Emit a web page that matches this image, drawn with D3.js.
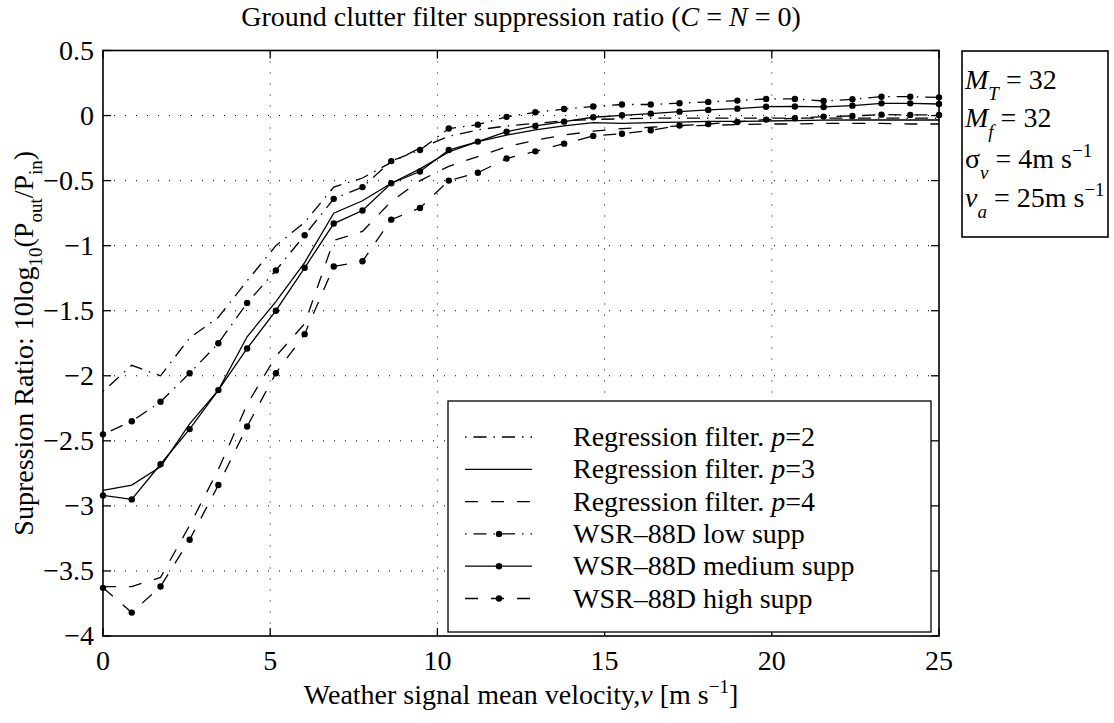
<!DOCTYPE html>
<html>
<head>
<meta charset="utf-8">
<script src="https://cdn.jsdelivr.net/npm/d3@7"></script>
<style>
  body { margin: 0; background: #fff; }
  svg text { font-family: "Liberation Serif", "Times New Roman", serif; fill: #000; }
</style>
</head>
<body>
<div id="chart"></div>
<script>
// velocity grid [m/s]
const velocity = [0, 0.86, 1.72, 2.59, 3.45, 4.31, 5.17, 6.03, 6.90, 7.76, 8.62, 9.48, 10.34, 11.21, 12.07,
	12.93, 13.79, 14.66, 15.52, 16.38, 17.24, 18.10, 18.97, 19.83, 20.69, 21.55, 22.41, 23.28, 24.14, 25]

const regP2 = [-2.12, -1.92, -2.0, -1.71, -1.55, -1.27, -1.0, -0.82, -0.55, -0.48, -0.36, -0.25, -0.16, -0.11, -0.08,
	-0.06, -0.04, -0.03, -0.025, -0.02, -0.02, -0.02, -0.02, -0.02, -0.02, -0.02, -0.02, -0.02, -0.02, -0.02]
const regP3 = [-2.88, -2.84, -2.70, -2.37, -2.11, -1.70, -1.43, -1.13, -0.75, -0.655, -0.52, -0.41, -0.28, -0.20, -0.15,
	-0.11, -0.08, -0.055, -0.06, -0.055, -0.05, -0.045, -0.044, -0.042, -0.039, -0.035, -0.034, -0.034, -0.034, -0.034]
const regP4 = [-3.62, -3.62, -3.55, -3.15, -2.72, -2.22, -1.85, -1.6, -0.96, -0.89, -0.66, -0.5, -0.39, -0.315, -0.24,
	-0.19, -0.15, -0.12, -0.1, -0.09, -0.08, -0.075, -0.07, -0.065, -0.065, -0.06, -0.06, -0.06, -0.065, -0.065]
const wsrLow = [-2.45, -2.35, -2.20, -1.98, -1.75, -1.44, -1.19, -0.92, -0.64, -0.55, -0.35, -0.265, -0.10, -0.07, -0.01,
	0.025, 0.05, 0.07, 0.085, 0.085, 0.095, 0.105, 0.115, 0.128, 0.128, 0.112, 0.125, 0.145, 0.145, 0.14]
const wsrMedium = [-2.92, -2.95, -2.68, -2.41, -2.11, -1.79, -1.50, -1.17, -0.83, -0.73, -0.52, -0.43, -0.265, -0.20, -0.124,
	-0.08, -0.047, -0.013, 0.002, 0.015, 0.03, 0.043, 0.053, 0.068, 0.07, 0.066, 0.076, 0.094, 0.094, 0.089]
const wsrHigh = [-3.63, -3.82, -3.62, -3.26, -2.84, -2.39, -1.98, -1.68, -1.16, -1.12, -0.80, -0.71, -0.50, -0.44, -0.33,
	-0.275, -0.216, -0.157, -0.14, -0.113, -0.077, -0.065, -0.049, -0.031, -0.021, -0.008, -0.003, 0.007, 0.005, 0.005]

const xTicks = [0, 5, 10, 15, 20, 25]
const yTicks = [0.5, 0, -0.5, -1, -1.5, -2, -2.5, -3, -3.5, -4]

const DASHDOT = "1.5,7,13,7"
const DASHED = "13,13"
const FS = 28, FS_SUB = 19

const series = [
	{ name: "Regression filter.", p: "2", values: regP2, dash: DASHDOT, marker: false },
	{ name: "Regression filter.", p: "3", values: regP3, dash: null, marker: false },
	{ name: "Regression filter.", p: "4", values: regP4, dash: DASHED, marker: false },
	{ name: "WSR\u201388D low supp", values: wsrLow, dash: DASHDOT, marker: true },
	{ name: "WSR\u201388D medium supp", values: wsrMedium, dash: null, marker: true },
	{ name: "WSR\u201388D high supp", values: wsrHigh, dash: DASHED, marker: true },
]

const width = 1114, height = 723
const margin = { top: 50.5, right: 175, bottom: 87, left: 103 }

const svg = d3.select("#chart").append("svg")
	.attr("width", width)
	.attr("height", height)

const xScale = d3.scaleLinear().domain([0, 25]).range([margin.left, width - margin.right])
const yScale = d3.scaleLinear().domain([-4, 0.5]).range([height - margin.bottom, margin.top])

const x0 = xScale.range()[0], x1 = xScale.range()[1]
const y0 = yScale.range()[0], y1 = yScale.range()[1]

// grid
const grid = svg.append("g").attr("class", "grid")
grid.selectAll(".vgrid").data(xTicks.slice(1, -1)).join("line")
	.attr("x1", d => xScale(d)).attr("x2", d => xScale(d))
	.attr("y1", y1).attr("y2", y0)
	.attr("stroke", "#000").attr("stroke-width", 1).attr("stroke-dasharray", "1,10")
grid.selectAll(".hgrid").data(yTicks.slice(1, -1)).join("line")
	.attr("x1", x0).attr("x2", x1)
	.attr("y1", d => yScale(d)).attr("y2", d => yScale(d))
	.attr("stroke", "#000").attr("stroke-width", 1).attr("stroke-dasharray", "1,10")

// lines
const line = d3.line()
	.x((d, i) => xScale(velocity[i]))
	.y(d => yScale(d))

const plot = svg.append("g")
series.forEach(s => {
	plot.append("path")
		.datum(s.values)
		.attr("d", line)
		.attr("fill", "none")
		.attr("stroke", "#000")
		.attr("stroke-width", 1.3)
		.attr("stroke-dasharray", s.dash)
	if (s.marker) {
		plot.selectAll(null).data(s.values).join("circle")
			.attr("cx", (d, i) => xScale(velocity[i]))
			.attr("cy", d => yScale(d))
			.attr("r", 3.2)
			.attr("fill", "#000")
	}
})

// axes (MATLAB style box with inward ticks)
const tickLen = 8
const axisG = svg.append("g")
axisG.append("rect")
	.attr("x", x0).attr("y", y1)
	.attr("width", x1 - x0).attr("height", y0 - y1)
	.attr("fill", "none").attr("stroke", "#000").attr("stroke-width", 1.6)

axisG.selectAll(".xt").data(xTicks).join("g").each(function (d) {
	const g = d3.select(this)
	g.append("line").attr("x1", xScale(d)).attr("x2", xScale(d)).attr("y1", y0).attr("y2", y0 - tickLen)
		.attr("stroke", "#000").attr("stroke-width", 1.3)
	g.append("line").attr("x1", xScale(d)).attr("x2", xScale(d)).attr("y1", y1).attr("y2", y1 + tickLen)
		.attr("stroke", "#000").attr("stroke-width", 1.3)
	g.append("text").attr("x", xScale(d)).attr("y", y0 + 34)
		.attr("text-anchor", "middle").attr("font-size", FS).text(d)
})

const fmtY = d => (d < 0 ? "\u2212" : "") + Math.abs(d)
axisG.selectAll(".yt").data(yTicks).join("g").each(function (d) {
	const g = d3.select(this)
	g.append("line").attr("x1", x0).attr("x2", x0 + tickLen).attr("y1", yScale(d)).attr("y2", yScale(d))
		.attr("stroke", "#000").attr("stroke-width", 1.3)
	g.append("line").attr("x1", x1).attr("x2", x1 - tickLen).attr("y1", yScale(d)).attr("y2", yScale(d))
		.attr("stroke", "#000").attr("stroke-width", 1.3)
	g.append("text").attr("x", x0 - 9).attr("y", yScale(d) + 9)
		.attr("text-anchor", "end").attr("font-size", FS).text(fmtY(d))
})

// title
const title = svg.append("text")
	.attr("x", (x0 + x1) / 2).attr("y", 26)
	.attr("text-anchor", "middle").attr("font-size", FS)
title.append("tspan").text("Ground clutter filter suppression ratio (")
title.append("tspan").attr("font-style", "italic").text("C")
title.append("tspan").text(" = ")
title.append("tspan").attr("font-style", "italic").text("N")
title.append("tspan").text(" = 0)")

// x label
const xLabel = svg.append("text")
	.attr("x", (x0 + x1) / 2).attr("y", 704)
	.attr("text-anchor", "middle").attr("font-size", FS)
xLabel.append("tspan").text("Weather signal mean velocity,")
xLabel.append("tspan").attr("font-style", "italic").text("v")
xLabel.append("tspan").text(" [m s")
xLabel.append("tspan").attr("font-size", FS_SUB).attr("dy", -11).text("\u22121")
xLabel.append("tspan").attr("dy", 11).text("]")

// y label
const yLabel = svg.append("text")
	.attr("transform", `translate(33, ${(y0 + y1) / 2}) rotate(-90)`)
	.attr("text-anchor", "middle").attr("font-size", FS)
yLabel.append("tspan").text("Supression Ratio: 10log")
yLabel.append("tspan").attr("font-size", FS_SUB).attr("dy", 9).text("10")
yLabel.append("tspan").attr("dy", -9).text("(P")
yLabel.append("tspan").attr("font-size", FS_SUB).attr("dy", 9).text("out")
yLabel.append("tspan").attr("dy", -9).text("/P")
yLabel.append("tspan").attr("font-size", FS_SUB).attr("dy", 9).text("in")
yLabel.append("tspan").attr("dy", -9).text(")")

// legend
const legend = svg.append("g")
legend.append("rect")
	.attr("x", 448).attr("y", 401).attr("width", 483).attr("height", 231)
	.attr("fill", "#fff").attr("stroke", "#000").attr("stroke-width", 1.3)
series.forEach((s, i) => {
	const ly = 437 + i * 32.3
	legend.append("line")
		.attr("x1", 465).attr("x2", 532).attr("y1", ly).attr("y2", ly)
		.attr("stroke", "#000").attr("stroke-width", 1.3)
		.attr("stroke-dasharray", s.dash)
	if (s.marker) {
		legend.append("circle").attr("cx", 499).attr("cy", ly).attr("r", 3.2).attr("fill", "#000")
	}
	const t = legend.append("text").attr("x", 573).attr("y", ly + 9).attr("font-size", FS)
	t.append("tspan").text(s.name)
	if (s.p) {
		t.append("tspan").attr("font-style", "italic").text(" p")
		t.append("tspan").text("=" + s.p)
	}
})

// parameter box
const params = svg.append("g")
params.append("rect")
	.attr("x", 962).attr("y", 51).attr("width", 146).attr("height", 186)
	.attr("fill", "none").attr("stroke", "#000").attr("stroke-width", 1.6)
const paramRows = [
	{ sym: "M", italic: true, sub: "T", rest: " = 32", sup: null, y: 89 },
	{ sym: "M", italic: true, sub: "f", rest: " = 32", sup: null, y: 127 },
	{ sym: "\u03c3", italic: false, sub: "v", rest: " = 4m s", sup: "\u22121", y: 168 },
	{ sym: "v", italic: true, sub: "a", rest: " = 25m s", sup: "\u22121", y: 207 },
]
paramRows.forEach(r => {
	const t = params.append("text").attr("x", 965).attr("y", r.y).attr("font-size", FS)
	t.append("tspan").attr("font-style", r.italic ? "italic" : null).text(r.sym)
	t.append("tspan").attr("font-style", "italic").attr("font-size", FS_SUB).attr("dy", 11).text(r.sub)
	t.append("tspan").attr("dy", -11).text(r.rest)
	if (r.sup) t.append("tspan").attr("font-size", FS_SUB).attr("dy", -11).text(r.sup)
})
</script>
</body>
</html>
